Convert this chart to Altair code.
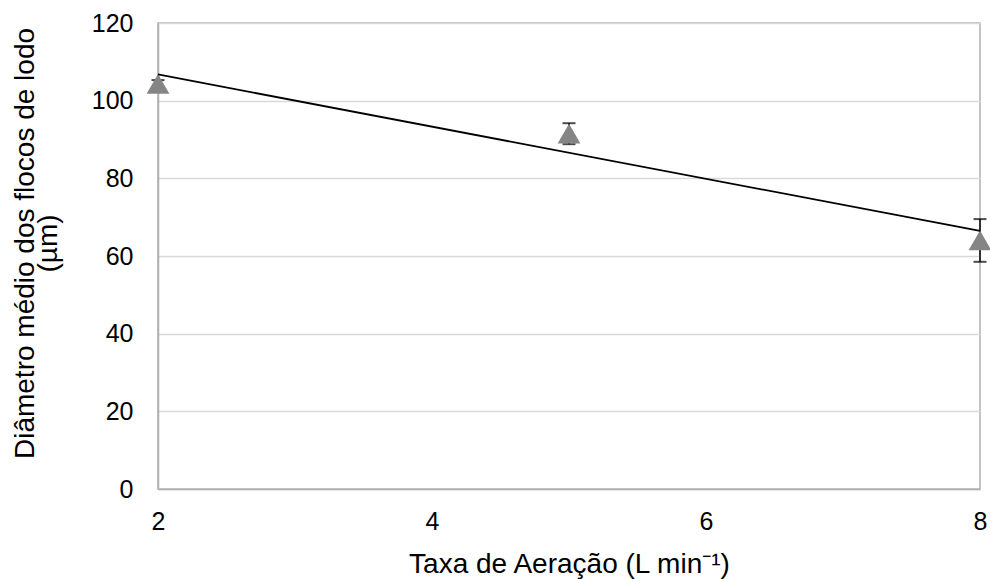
import altair as alt
import pandas as pd

aeration = [2, 5, 8]
diameter = [104.3, 91.5, 64.0]
error = [1.0, 2.7, 5.5]
x_ticks = [2, 4, 6, 8]
y_ticks = [0, 20, 40, 60, 80, 100, 120]

df = pd.DataFrame({"x": aeration, "y": diameter, "err": error})

FONT = "Liberation Sans"
XTITLE = "Taxa de Aeração (L min⁻¹)"
YTITLE = ["Diâmetro médio dos flocos de lodo", "(µm)"]
xscale = alt.Scale(domain=[2, 8], nice=False, zero=False)
yscale = alt.Scale(domain=[0, 120], nice=False)

xax = alt.Axis(values=x_ticks, format="d", grid=False, labelFlush=False,
               labelPadding=20, titlePadding=16)
yax = alt.Axis(values=y_ticks, format="d", grid=True, labelPadding=25,
               titlePadding=29, titleY=220, titleLineHeight=23)


def X(field):
    return alt.X(field, type="quantitative", scale=xscale, axis=xax, title=XTITLE)


def Y(field):
    return alt.Y(field, type="quantitative", scale=yscale, axis=yax, title=YTITLE)


base = alt.Chart(df).transform_calculate(
    lo="datum.y - datum.err", hi="datum.y + datum.err"
)

rules = base.mark_rule(color="#000000", strokeWidth=1.5).encode(
    x=X("x"), y=Y("lo"), y2="hi:Q"
)
cap_lo = base.mark_tick(color="#000000", thickness=2, size=13, orient="horizontal").encode(
    x=X("x"), y=Y("lo")
)
cap_hi = base.mark_tick(color="#000000", thickness=2, size=13, orient="horizontal").encode(
    x=X("x"), y=Y("hi")
)
points = alt.Chart(df).mark_point(shape="triangle-up", filled=True, fill="#858585",
                                  strokeWidth=0, opacity=1, size=520).encode(x=X("x"), y=Y("y"))
trend = alt.Chart(df).transform_regression("x", "y", extent=[2, 8]).mark_line(
    color="#000000", strokeWidth=1.8
).encode(x=X("x"), y=Y("y"))

chart = alt.layer(rules, cap_lo, cap_hi, points, trend).properties(
    width=822, height=466,
    autosize=alt.AutoSizeParams(type="none"),
    padding={"left": 158, "top": 23, "right": 10, "bottom": 90},
    background="#ffffff",
).configure_view(
    stroke="#b0b0b0", strokeWidth=1.5
).configure_axis(
    ticks=False, domain=True, domainColor="#b0b0b0", domainWidth=1.5,
    gridColor="#d9d9d9", gridWidth=1.5,
    labelFont=FONT, labelFontSize=25, labelColor="#000000",
    titleFont=FONT, titleFontSize=28, titleFontWeight="normal", titleColor="#000000",
)

chart.save("out.html", embed_options={"renderer": "svg", "actions": False})
